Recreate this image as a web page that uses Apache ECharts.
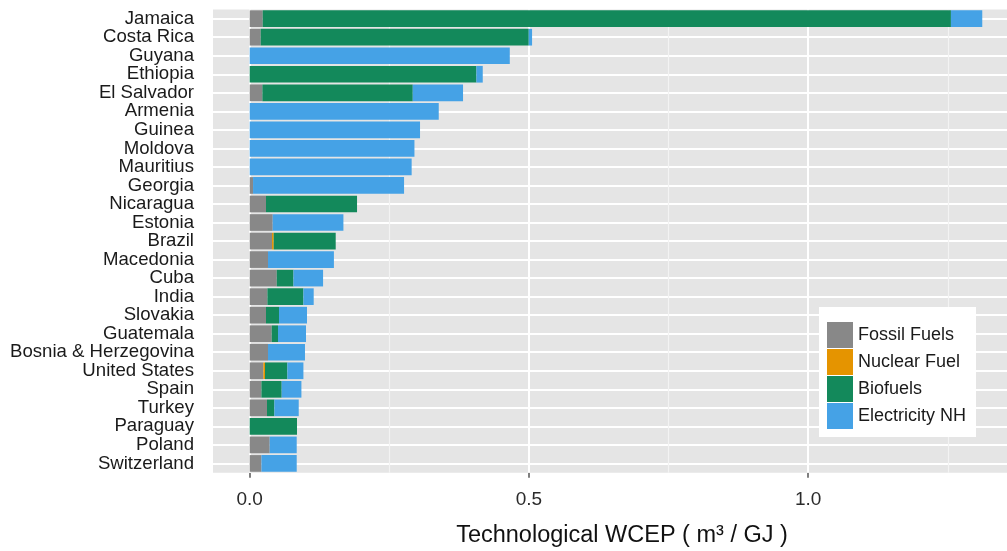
<!DOCTYPE html>
<html><head><meta charset="utf-8">
<script src="https://cdn.jsdelivr.net/npm/echarts@6/dist/echarts.min.js"></script>
<style>html,body{margin:0;padding:0;background:#fff}#c{width:1007px;height:551px}</style>
</head><body><div id="c"></div>
<script>
const categories = ['Jamaica','Costa Rica','Guyana','Ethiopia','El Salvador','Armenia','Guinea','Moldova','Mauritius','Georgia','Nicaragua','Estonia','Brazil','Macedonia','Cuba','India','Slovakia','Guatemala','Bosnia & Herzegovina','United States','Spain','Turkey','Paraguay','Poland','Switzerland'];
const fossil      = [0.0233,0.0197,0,0,0.0227,0,0,0,0,0.0060,0.0292,0.0412,0.0400,0.0328,0.0484,0.0317,0.0292,0.0394,0.0328,0.0245,0.0210,0.0310,0,0.0358,0.0210];
const nuclear     = [0,0,0,0,0,0,0,0,0,0,0,0,0.0030,0,0,0,0,0,0,0.0029,0,0,0,0,0];
const biofuels    = [1.2323,0.4800,0,0.4060,0.2693,0,0,0,0,0,0.1630,0,0.1110,0,0.0300,0.0645,0.0233,0.0113,0,0.0401,0.0363,0.0132,0.0847,0,0];
const electricity = [0.0561,0.0059,0.4657,0.0113,0.0900,0.3385,0.3050,0.2950,0.2900,0.2704,0,0.1266,0,0.1180,0.0530,0.0184,0.0501,0.0501,0.0662,0.0287,0.0353,0.0436,0,0.0484,0.0632];
const seriesNames = ['Fossil Fuels','Nuclear Fuel','Biofuels','Electricity NH'];
const xTicks = [0, 0.5, 1.0];
const xMinorTicks = [0.25, 0.75, 1.25];

const colors = ['#888888','#E59400','#13895B','#45A2E6'];
const FONT = "'Liberation Sans', Arial, Helvetica, sans-serif";
const chart = echarts.init(document.getElementById('c'));

const gridLines = [];
categories.forEach(c => gridLines.push({yAxis: c, lineStyle: {color: '#ffffff', width: 2, type: 'solid'}}));
xMinorTicks.forEach(v => gridLines.push({xAxis: v, lineStyle: {color: '#f3f3f3', width: 1.2, type: 'solid'}}));
xTicks.forEach(v => gridLines.push({xAxis: v, lineStyle: {color: '#ffffff', width: 2, type: 'solid'}}));

const values = [fossil, nuclear, biofuels, electricity];
const series = seriesNames.map((name, i) => {
  const s = {
    name, type: 'bar', stack: 'total', data: values[i],
    barCategoryGap: '10%',
    itemStyle: {color: colors[i]},
    emphasis: {disabled: true},
    z: 3
  };
  if (i === 0) {
    s.markLine = {
      silent: true, symbol: ['none','none'], label: {show: false},
      lineStyle: {type: 'solid'},
      z: 1, animation: false, data: gridLines
    };
  }
  return s;
});

chart.setOption({
  animation: false,
  textStyle: {fontFamily: FONT},
  grid: {left: 213, right: 0, top: 9.4, bottom: 78.3, outerBoundsMode: 'none', containLabel: false, show: true, backgroundColor: '#e5e5e5', borderWidth: 0},
  legend: {
    data: seriesNames, orient: 'vertical', left: 819, top: 307,
    backgroundColor: '#ffffff', padding: [15, 10, 8, 8],
    itemWidth: 26, itemHeight: 26, itemGap: 1, icon: 'rect',
    selectedMode: false,
    textStyle: {fontSize: 18, color: '#1a1a1a', fontFamily: FONT}
  },
  xAxis: {
    type: 'value', min: -0.0657, max: 1.356,
    splitLine: {show: false}, axisLine: {show: false},
    axisTick: {show: true, length: 5, customValues: xTicks, lineStyle: {color: '#555', width: 1.5}},
    axisLabel: {customValues: xTicks, formatter: v => Number(v).toFixed(1), fontSize: 19, color: '#2a2a2a', margin: 18, fontFamily: FONT},
    name: 'Technological WCEP ( m³ / GJ )', nameLocation: 'middle', nameGap: 51,
    nameTextStyle: {fontSize: 23.5, color: '#111', padding: [0, 0, 0, 24], fontFamily: FONT}
  },
  yAxis: {
    type: 'category', data: categories, inverse: true,
    axisLine: {show: false},
    axisTick: {show: true, length: 6, alignWithLabel: true, lineStyle: {color: '#555', width: 1.5}},
    splitLine: {show: false},
    axisLabel: {fontSize: 18.6, color: '#1a1a1a', margin: 19, interval: 0, fontFamily: FONT}
  },
  series
});
</script>
</body></html>
